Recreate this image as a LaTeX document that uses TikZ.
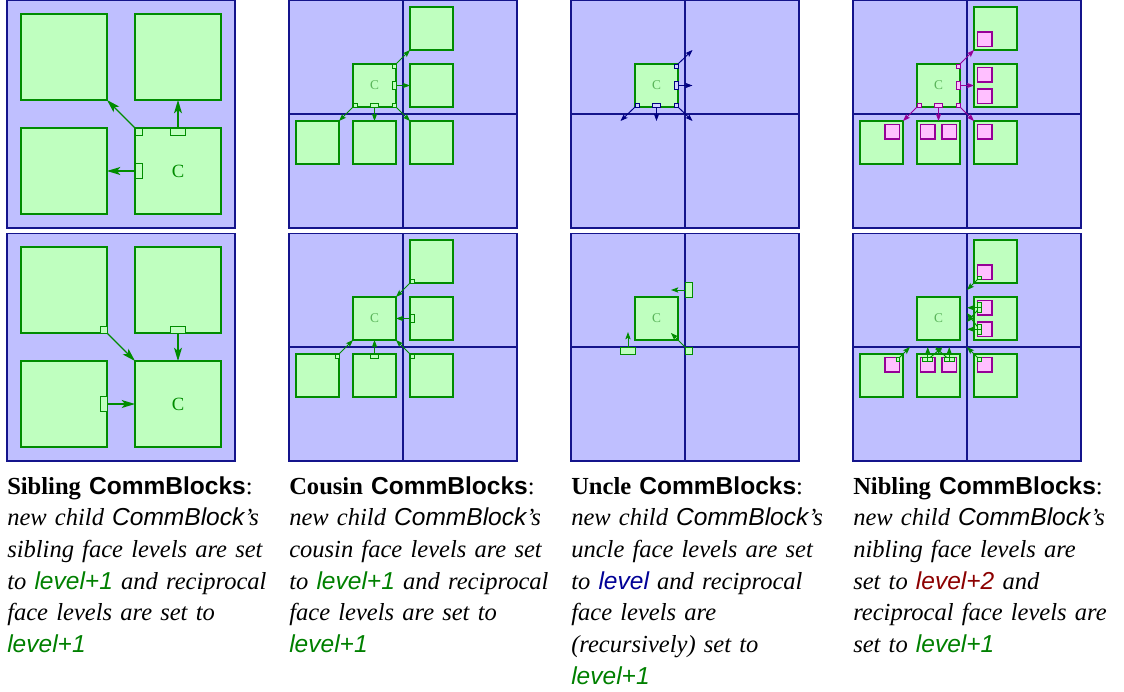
\documentclass[tikz,border=0pt]{standalone}
\usepackage{fontspec}
\setmainfont{Liberation Serif}
\setsansfont{Liberation Sans}
\usetikzlibrary{positioning,arrows.meta}
\definecolor{PanelFill}{RGB}{191,191,255}
\definecolor{PanelLine}{RGB}{20,20,140}
\definecolor{BlockFill}{RGB}{191,255,191}
\definecolor{BlockLine}{RGB}{0,140,0}
\definecolor{NibFill}{RGB}{255,191,255}
\definecolor{NibLine}{RGB}{150,0,150}
\definecolor{UncleFill}{RGB}{210,210,255}
\definecolor{UncleLine}{RGB}{0,0,130}
\definecolor{LevelGreen}{RGB}{0,128,0}
\definecolor{LevelBlue}{RGB}{0,0,150}
\definecolor{LevelRed}{RGB}{140,0,0}
\newcommand{\lvlgreen}[1]{\textcolor{LevelGreen}{\textsf{#1}}}
\newcommand{\lvlblue}[1]{\textcolor{LevelBlue}{\textsf{#1}}}
\newcommand{\lvlred}[1]{\textcolor{LevelRed}{\textsf{#1}}}

\begin{document}
\begin{tikzpicture}[x=0.75pt, y=-0.75pt,
    panel/.style={draw=PanelLine, fill=PanelFill, line width=1.1pt},
    gridline/.style={draw=PanelLine, line width=0.8pt},
    block/.style={rectangle, draw=BlockLine, fill=BlockFill, line width=0.9pt,
                  inner sep=0pt, outer sep=0pt},
    bigblock/.style={block, minimum size=64.5pt, font=\fontsize{14}{14}\selectfont, text=BlockLine},
    smallblock/.style={block, minimum size=32.25pt, font=\fontsize{10}{10}\selectfont, text=BlockLine!65!white},
    nibblock/.style={rectangle, draw=NibLine, fill=NibFill, line width=0.8pt,
                     inner sep=0pt, outer sep=0pt, minimum size=10.9pt},
    port/.style={rectangle, line width=0.6pt, inner sep=0pt, outer sep=0pt},
    greenport/.style={port, draw=BlockLine, fill=BlockFill},
    blueport/.style={port, draw=UncleLine, fill=UncleFill},
    pinkport/.style={port, draw=NibLine, fill=NibFill},
    bigcorner/.style={minimum width=5.25pt, minimum height=5.25pt},
    bighface/.style={minimum width=11.25pt, minimum height=5.25pt},
    bigvface/.style={minimum width=5.25pt, minimum height=11.25pt},
    smallcorner/.style={minimum width=3pt, minimum height=3pt},
    smallhface/.style={minimum width=5.8pt, minimum height=3pt},
    smallvface/.style={minimum width=3pt, minimum height=5.8pt},
    tinycorner/.style={minimum width=2.7pt, minimum height=2.7pt},
    tinyhface/.style={minimum width=3.75pt, minimum height=2.7pt},
    tinyvface/.style={minimum width=2.7pt, minimum height=3.75pt},
    arrbig/.style={color=BlockLine, line width=0.9pt, -{Stealth[length=10pt, width=6pt, inset=2.5pt]}},
    arrsmall/.style={line width=0.7pt, -{Stealth[length=5.5pt, width=4pt, inset=1.2pt]}},
    blurb/.style={anchor=north west, align=left, inner sep=0pt, text width=215pt,
                  font=\fontsize{18.4}{23.8}\selectfont}
]
    \useasboundingbox (0,0) rectangle (1124,692);

    % panels and quadrant lines
    \foreach \px in {7,289,571,853}
      \foreach \py in {0,233}
        \draw[panel] (\px,\py+0.5) rectangle (\px+228,\py+228);
    \foreach \px in {289,571,853}
      \foreach \py in {0,233} {
        \draw[gridline] (\px+114,\py) -- (\px+114,\py+228);
        \draw[gridline] (\px,\py+114) -- (\px+228,\py+114);
      }

    % sibling, top
    \node[bigblock] (s1a) at (64,57) {};
    \node[bigblock] (s1b) at (178,57) {};
    \node[bigblock] (s1d) at (64,171) {};
    \node[bigblock] (s1c) at (178,171) {C};
    \node[greenport, bigcorner, anchor=north west] (s1p1) at (s1c.north west) {};
    \node[greenport, bighface, anchor=north] (s1p2) at (s1c.north) {};
    \node[greenport, bigvface, anchor=west] (s1p3) at (s1c.west) {};
    \draw[arrbig] (s1c.north west) -- (s1a.south east);
    \draw[arrbig] (s1c.north) -- (s1b.south);
    \draw[arrbig] (s1c.west) -- (s1d.east);

    % sibling, bottom
    \node[bigblock] (s2a) at (64,290) {};
    \node[bigblock] (s2b) at (178,290) {};
    \node[bigblock] (s2d) at (64,404) {};
    \node[bigblock] (s2c) at (178,404) {C};
    \node[greenport, bigcorner, anchor=south east] (s2p1) at (s2a.south east) {};
    \node[greenport, bighface, anchor=south] (s2p2) at (s2b.south) {};
    \node[greenport, bigvface, anchor=east] (s2p3) at (s2d.east) {};
    \draw[arrbig] (s2a.south east) -- (s2c.north west);
    \draw[arrbig] (s2b.south) -- (s2c.north);
    \draw[arrbig] (s2d.east) -- (s2c.west);

    % cousin and nibling blocks
    \foreach \k/\px in {c/289, n/853}
      \foreach \row/\py in {1/0, 2/233} {
        \node[smallblock] (\k\row c) at (\px+85.5,\py+85.5) {C};
        \node[smallblock] (\k\row tr) at (\px+142.5,\py+28.5) {};
        \node[smallblock] (\k\row r) at (\px+142.5,\py+85.5) {};
        \node[smallblock] (\k\row bl) at (\px+28.5,\py+142.5) {};
        \node[smallblock] (\k\row b) at (\px+85.5,\py+142.5) {};
        \node[smallblock] (\k\row br) at (\px+142.5,\py+142.5) {};
      }
    \node[smallblock] (u1c) at (656.5,85.5) {C};
    \node[smallblock] (u2c) at (656.5,318.5) {C};

    % nibling children
    \foreach \row in {1,2} {
        \node[nibblock] (n\row pa) at ([shift={(-10.75,10.75)}]n\row tr.center) {};
        \node[nibblock] (n\row pb) at ([shift={(-10.75,-10.75)}]n\row r.center) {};
        \node[nibblock] (n\row pc) at ([shift={(-10.75,10.75)}]n\row r.center) {};
        \node[nibblock] (n\row pd) at ([shift={(10.75,-10.75)}]n\row bl.center) {};
        \node[nibblock] (n\row pe) at ([shift={(-10.75,-10.75)}]n\row b.center) {};
        \node[nibblock] (n\row pf) at ([shift={(10.75,-10.75)}]n\row b.center) {};
        \node[nibblock] (n\row pg) at ([shift={(-10.75,-10.75)}]n\row br.center) {};
    }

    % cousin and nibling, top: faces of the new child
    \foreach \k/\kind/\col in {c/greenport/BlockLine, n/pinkport/NibLine} {
        \node[\kind, smallcorner, anchor=north east] (\k1p1) at (\k1c.north east) {};
        \node[\kind, smallvface, anchor=east] (\k1p2) at (\k1c.east) {};
        \node[\kind, smallhface, anchor=south] (\k1p3) at (\k1c.south) {};
        \node[\kind, smallcorner, anchor=south west] (\k1p4) at (\k1c.south west) {};
        \node[\kind, smallcorner, anchor=south east] (\k1p5) at (\k1c.south east) {};
        \draw[arrsmall, \col] (\k1c.north east) -- (\k1tr.south west);
        \draw[arrsmall, \col] (\k1c.east) -- (\k1r.west);
        \draw[arrsmall, \col] (\k1c.south) -- (\k1b.north);
        \draw[arrsmall, \col] (\k1c.south west) -- (\k1bl.north east);
        \draw[arrsmall, \col] (\k1c.south east) -- (\k1br.north west);
    }

    % cousin, bottom
    \node[greenport, smallcorner, anchor=south west] (c2p1) at (c2tr.south west) {};
    \node[greenport, smallvface, anchor=west] (c2p2) at (c2r.west) {};
    \node[greenport, smallhface, anchor=north] (c2p3) at (c2b.north) {};
    \node[greenport, smallcorner, anchor=north east] (c2p4) at (c2bl.north east) {};
    \node[greenport, smallcorner, anchor=north west] (c2p5) at (c2br.north west) {};
    \draw[arrsmall, BlockLine] (c2tr.south west) -- (c2c.north east);
    \draw[arrsmall, BlockLine] (c2r.west) -- (c2c.east);
    \draw[arrsmall, BlockLine] (c2b.north) -- (c2c.south);
    \draw[arrsmall, BlockLine] (c2bl.north east) -- (c2c.south west);
    \draw[arrsmall, BlockLine] (c2br.north west) -- (c2c.south east);

    % uncle, top
    \coordinate (u1t1) at (692.5,50);
    \coordinate (u1t2) at (692.5,85.5);
    \coordinate (u1t3) at (656.5,121);
    \coordinate (u1t4) at (620.5,121);
    \coordinate (u1t5) at (692.5,121);
    \node[blueport, smallcorner, anchor=north east] (u1p1) at (u1c.north east) {};
    \node[blueport, smallvface, anchor=east] (u1p2) at (u1c.east) {};
    \node[blueport, smallhface, anchor=south] (u1p3) at (u1c.south) {};
    \node[blueport, smallcorner, anchor=south west] (u1p4) at (u1c.south west) {};
    \node[blueport, smallcorner, anchor=south east] (u1p5) at (u1c.south east) {};
    \draw[arrsmall, UncleLine] (u1c.north east) -- (u1t1);
    \draw[arrsmall, UncleLine] (u1c.east) -- (u1t2);
    \draw[arrsmall, UncleLine] (u1c.south) -- (u1t3);
    \draw[arrsmall, UncleLine] (u1c.south west) -- (u1t4);
    \draw[arrsmall, UncleLine] (u1c.south east) -- (u1t5);

    % uncle, bottom
    \node[greenport, bigvface, anchor=west] (u2p1) at (685,290) {};
    \node[greenport, bighface, anchor=north] (u2p2) at (628,347) {};
    \node[greenport, bigcorner, anchor=north west] (u2p3) at (685,347) {};
    \coordinate (u2t1) at (671,290);
    \coordinate (u2t2) at (628,332);
    \coordinate (u2t3) at (671,333);
    \draw[arrsmall, BlockLine] (u2p1.west) -- (u2t1);
    \draw[arrsmall, BlockLine] (u2p2.north) -- (u2t2);
    \draw[arrsmall, BlockLine] (u2p3.north west) -- (u2t3);

    % nibling, bottom
    \coordinate (n2ur) at (967,290);
    \coordinate (n2ll) at (910,347);
    \coordinate (n2lr) at (967,347);
    \coordinate (n2t1) at (967,322);
    \coordinate (n2t2) at (967,313);
    \coordinate (n2t3) at (942.5,347);
    \coordinate (n2t4) at (935,347);
    \node[greenport, tinycorner, anchor=south west] (n2q1) at (n2pa.south west) {};
    \node[greenport, tinycorner, anchor=north east] (n2q2) at (n2pd.north east) {};
    \node[greenport, tinycorner, anchor=north west] (n2q3) at (n2pg.north west) {};
    \node[greenport, tinyvface, anchor=south west] (n2q4) at (n2pb.west) {};
    \node[greenport, tinyvface, anchor=north west] (n2q5) at (n2pb.west) {};
    \node[greenport, tinyvface, anchor=south west] (n2q6) at (n2pc.west) {};
    \node[greenport, tinyvface, anchor=north west] (n2q7) at (n2pc.west) {};
    \node[greenport, tinyhface, anchor=north east] (n2q8) at (n2pe.north) {};
    \node[greenport, tinyhface, anchor=north west] (n2q9) at (n2pe.north) {};
    \node[greenport, tinyhface, anchor=north east] (n2q10) at (n2pf.north) {};
    \node[greenport, tinyhface, anchor=north west] (n2q11) at (n2pf.north) {};
    \draw[arrsmall, BlockLine] (n2pa.south west) -- (n2ur);
    \draw[arrsmall, BlockLine] (n2pd.north east) -- (n2ll);
    \draw[arrsmall, BlockLine] (n2pg.north west) -- (n2lr);
    \draw[arrsmall, BlockLine] (n2pb.west) -- (n2pb.west -| n2lr);
    \draw[arrsmall, BlockLine] (n2q5.west) -- (n2t1);
    \draw[arrsmall, BlockLine] (n2pc.west) -- (n2pc.west -| n2lr);
    \draw[arrsmall, BlockLine] (n2q6.west) -- (n2t2);
    \draw[arrsmall, BlockLine] (n2pe.north) -- (n2pe.north |- n2lr);
    \draw[arrsmall, BlockLine] (n2q9.north) -- (n2t3);
    \draw[arrsmall, BlockLine] (n2pf.north) -- (n2pf.north |- n2lr);
    \draw[arrsmall, BlockLine] (n2q10.north) -- (n2t4);

    % captions
    \node[blurb] (t1) at (7,476) {\textbf{Sibling \textsf{CommBlocks}}:\\
        \itshape new child \textsf{CommBlock}'s\\
        sibling face levels are set\\
        to \lvlgreen{level+1} and reciprocal\\
        face levels are set to\\
        \lvlgreen{level+1}};
    \node[blurb] (t2) at (289,476) {\textbf{Cousin \textsf{CommBlocks}}:\\
        \itshape new child \textsf{CommBlock}'s\\
        cousin face levels are set\\
        to \lvlgreen{level+1} and reciprocal\\
        face levels are set to\\
        \lvlgreen{level+1}};
    \node[blurb] (t3) at (571,476) {\textbf{Uncle \textsf{CommBlocks}}:\\
        \itshape new child \textsf{CommBlock}'s\\
        uncle face levels are set\\
        to \lvlblue{level} and reciprocal\\
        face levels are\\
        (recursively) set to\\
        \lvlgreen{level+1}};
    \node[blurb] (t4) at (853,476) {\textbf{Nibling \textsf{CommBlocks}}:\\
        \itshape new child \textsf{CommBlock}'s\\
        nibling face levels are\\
        set to \lvlred{level+2} and\\
        reciprocal face levels are\\
        set to \lvlgreen{level+1}};
\end{tikzpicture}
\end{document}
